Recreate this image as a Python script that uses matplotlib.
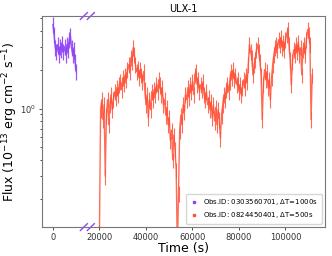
import numpy as np
import matplotlib
matplotlib.use("Agg")
import matplotlib.pyplot as plt
from matplotlib.lines import Line2D
import matplotlib.transforms as mtransforms

# obs 1 : 0303560701
t1 = np.arange(0, 10001, 500)
f1 = [4.46, 3.73, 2.95, 2.75, 3.12, 2.61, 3.01, 2.85, 3.17, 2.75, 3.01,
      2.61, 3.12, 2.85, 3.41, 3.66, 2.95, 2.61, 2.85, 2.30, 1.93]

# obs 2 : 0824450401 (shifted to start at 20000 s)
t2 = np.arange(20000, 20000 + 500 * 184, 500)
f2 = [0.11, 0.98, 1.17, 0.82, 1.07, 0.30, 0.89, 1.17, 0.75, 1.07,
      1.28, 0.98, 1.17, 1.35, 1.21, 1.45, 1.28, 1.53, 1.61, 1.40,
      1.73, 1.56, 1.82, 1.67, 2.00, 2.18, 1.93, 2.47, 2.30, 2.95,
      2.61, 2.18, 1.93, 2.06, 1.73, 2.00, 1.82, 1.61, 1.93, 1.40,
      1.07, 1.28, 0.85, 1.17, 0.98, 1.35, 1.17, 1.40, 1.28, 1.53,
      1.35, 1.67, 1.53, 1.28, 1.45, 1.07, 1.17, 0.89, 1.02, 0.75,
      0.85, 0.57, 0.68, 0.40, 0.625, 0.48, 0.335, 0.08, 0.22, 0.68,
      0.89, 0.75, 1.07, 0.94, 1.28, 1.17, 1.45, 1.21, 1.53, 1.35,
      1.61, 1.28, 1.82, 1.93, 1.53, 1.67, 1.35, 1.53, 1.40, 1.61,
      1.28, 1.17, 1.35, 1.07, 1.21, 0.98, 1.13, 0.85, 1.07, 0.80,
      1.02, 0.75, 0.98, 0.82, 0.59, 0.89, 1.07, 1.28, 1.17, 1.40,
      1.53, 1.35, 1.61, 1.93, 1.73, 2.00, 1.67, 1.82, 1.53, 1.67,
      1.35, 1.53, 1.28, 1.45, 1.67, 1.45, 1.82, 1.61, 2.18, 3.12,
      2.75, 2.47, 1.82, 2.18, 2.39, 2.85, 3.12, 2.75, 2.30, 1.82,
      0.82, 1.53, 2.00, 1.67, 1.93, 1.45, 1.67, 1.17, 1.73, 2.18,
      2.61, 2.95, 3.12, 2.85, 3.41, 3.12, 3.55, 2.95, 3.27, 2.85,
      3.41, 3.73, 4.07, 3.12, 2.39, 1.53, 2.30, 2.85, 2.61, 3.12,
      2.75, 3.27, 2.61, 2.95, 1.82, 2.85, 3.12, 2.61, 3.41, 4.07,
      3.73, 3.12, 0.82, 1.82]

f1 = np.array(f1)
f2 = np.array(f2)

c1 = "#8f45f5"
c2 = "#ff5238"

fig = plt.figure(figsize=(3.32, 2.56), dpi=100)
ax = fig.add_axes([0.1265, 0.113, 0.8525, 0.8245])

ax.errorbar(t1, f1, yerr=0.14 * f1, color=c1, ecolor=c1, lw=1.0,
            elinewidth=0.9, alpha=0.9)
ax.errorbar(t2, f2, yerr=0.14 * f2, color=c2, ecolor=c2, lw=1.0,
            elinewidth=0.8, alpha=0.85)

ax.set_yscale("log")
ax.set_xlim(-4700, 117000)
ax.set_ylim(0.121, 5.2)
ax.set_xticks([0, 20000, 40000, 60000, 80000, 100000])

# break marks between the two observations
trans = mtransforms.blended_transform_factory(ax.transData, ax.transAxes)
for yb in (1.0, 0.0):
    for xb in (13300, 16300):
        ax.plot([xb - 1500, xb + 1500], [yb - 0.016, yb + 0.016], color=c1,
                lw=1.0, transform=trans, clip_on=False)

for s in ax.spines.values():
    s.set_color("#777777")
    s.set_linewidth(0.8)
ax.tick_params(labelsize=6, length=2.5, width=0.6, colors="#333333", pad=2)
ax.tick_params(which="minor", length=1.5, width=0.5)

ax.set_title("ULX-1", fontsize=7, pad=3)
ax.set_xlabel("Time (s)", fontsize=9)
ax.set_ylabel("Flux (10$^{-13}$ erg cm$^{-2}$ s$^{-1}$)", fontsize=9)
ax.xaxis.set_label_coords(0.5, -0.072)
ax.yaxis.set_label_coords(-0.076, 0.5)

handles = [Line2D([], [], ls="none", marker="s", ms=1.8, color=c1),
           Line2D([], [], ls="none", marker="s", ms=1.8, color=c2)]
ax.legend(handles, ["Obs.ID: 0303560701, $\\Delta$T=1000s",
                    "Obs.ID: 0824450401, $\\Delta$T=500s"],
          loc="lower right", fontsize=5, handlelength=1.2,
          borderpad=0.5, labelspacing=0.4, handletextpad=0.8)

fig.savefig("out.png", dpi=100)
